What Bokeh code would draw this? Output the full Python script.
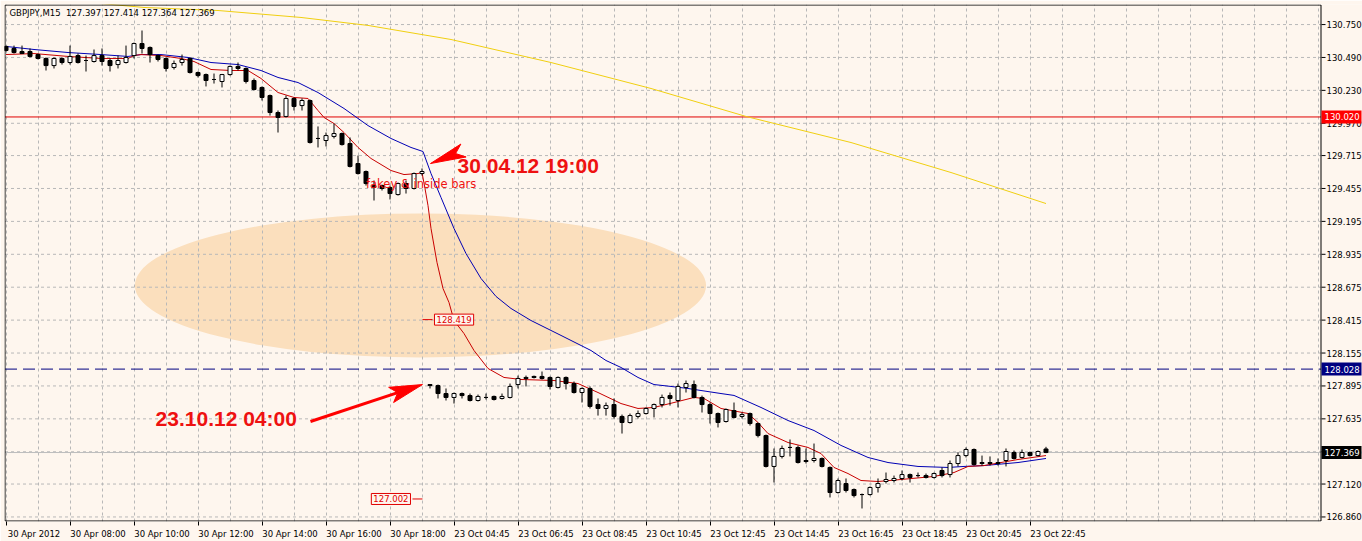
from bokeh.plotting import figure
from bokeh.models import Range1d, FixedTicker, Label
from bokeh.embed import file_html
from bokeh.resources import INLINE
from bokeh.core.properties import value

# ---------------- data ----------------
opens = [
    130.577, 130.561, 130.537, 130.537, 130.513, 130.482, 130.426, 130.482, 130.450, 130.505,
    130.466, 130.458, 130.505, 130.466, 130.434, 130.450, 130.505, 130.600, 130.569, 130.505,
    130.482, 130.411, 130.450, 130.482, 130.371, 130.355, 130.316, 130.300, 130.355, 130.419,
    130.403, 130.308, 130.253, 130.189, 130.055, 130.024, 130.166, 130.110, 130.150, 129.850,
    129.834, 129.866, 129.889, 129.810, 129.652, 129.589, 129.478, 129.478, 129.463, 129.407,
    129.494, 129.455, 129.573,
    127.906, 127.898, 127.835, 127.804, 127.835, 127.819, 127.780,
    127.804, 127.812, 127.796, 127.804, 127.906, 127.954, 127.970, 127.970, 127.962, 127.883,
    127.962, 127.914, 127.843, 127.875, 127.748, 127.717, 127.748, 127.654, 127.606, 127.654,
    127.677, 127.717, 127.748, 127.819, 127.780, 127.883, 127.906, 127.804, 127.748, 127.677,
    127.614, 127.701, 127.654, 127.677, 127.598, 127.503, 127.259, 127.338, 127.409, 127.409,
    127.306, 127.306, 127.322, 127.251, 127.053, 127.124, 127.077, 127.037, 127.037, 127.093,
    127.140, 127.148, 127.164, 127.195, 127.187, 127.187, 127.172, 127.227, 127.195, 127.282,
    127.345, 127.393, 127.282, 127.290, 127.290, 127.306, 127.369, 127.330, 127.369, 127.345,
    127.397]
highs = [
    130.584, 130.584, 130.584, 130.561, 130.521, 130.490, 130.490, 130.490, 130.584, 130.521,
    130.505, 130.553, 130.561, 130.482, 130.505, 130.584, 130.608, 130.703, 130.577, 130.513,
    130.490, 130.466, 130.513, 130.490, 130.379, 130.363, 130.363, 130.360, 130.426, 130.450,
    130.411, 130.324, 130.261, 130.197, 130.071, 130.189, 130.174, 130.166, 130.158, 129.945,
    129.897, 129.968, 129.897, 129.858, 129.715, 129.597, 129.518, 129.486, 129.478, 129.502,
    129.518, 129.581, 129.613,
    127.910, 127.906, 127.875, 127.843, 127.843, 127.835, 127.827,
    127.835, 127.819, 127.835, 127.914, 127.977, 127.977, 127.977, 128.009, 127.970, 127.970,
    127.970, 127.930, 127.883, 127.891, 127.796, 127.764, 127.796, 127.669, 127.677, 127.701,
    127.725, 127.756, 127.827, 127.843, 127.914, 127.938, 127.938, 127.819, 127.764, 127.685,
    127.717, 127.764, 127.685, 127.685, 127.606, 127.511, 127.401, 127.424, 127.472, 127.424,
    127.401, 127.440, 127.330, 127.259, 127.164, 127.164, 127.085, 127.045, 127.101, 127.164,
    127.211, 127.187, 127.227, 127.203, 127.211, 127.203, 127.211, 127.251, 127.306, 127.369,
    127.409, 127.401, 127.345, 127.338, 127.322, 127.401, 127.385, 127.393, 127.377, 127.385,
    127.414]
lows = [
    130.537, 130.521, 130.518, 130.490, 130.474, 130.387, 130.403, 130.434, 130.434, 130.442,
    130.379, 130.450, 130.426, 130.379, 130.403, 130.442, 130.482, 130.521, 130.450, 130.458,
    130.379, 130.395, 130.426, 130.363, 130.332, 130.261, 130.284, 130.253, 130.347, 130.387,
    130.284, 130.229, 130.150, 130.031, 129.897, 130.016, 130.071, 130.071, 129.810, 129.779,
    129.787, 129.850, 129.794, 129.621, 129.565, 129.478, 129.360, 129.439, 129.368, 129.399,
    129.415, 129.447, 129.557,
    127.875, 127.796, 127.780, 127.756, 127.796, 127.772, 127.772,
    127.788, 127.780, 127.788, 127.796, 127.875, 127.891, 127.954, 127.946, 127.867, 127.875,
    127.867, 127.835, 127.764, 127.717, 127.661, 127.661, 127.638, 127.519, 127.598, 127.638,
    127.669, 127.646, 127.725, 127.740, 127.725, 127.843, 127.796, 127.685, 127.598, 127.567,
    127.606, 127.638, 127.638, 127.582, 127.488, 127.251, 127.132, 127.322, 127.338, 127.282,
    127.282, 127.290, 127.251, 127.014, 127.045, 127.053, 127.014, 126.927, 127.029, 127.053,
    127.124, 127.132, 127.148, 127.132, 127.172, 127.164, 127.164, 127.172, 127.172, 127.259,
    127.330, 127.266, 127.266, 127.266, 127.266, 127.259, 127.314, 127.322, 127.338, 127.338,
    127.364]
closes = [
    130.545, 130.529, 130.521, 130.498, 130.482, 130.426, 130.482, 130.450, 130.498, 130.450,
    130.466, 130.505, 130.458, 130.426, 130.466, 130.490, 130.600, 130.561, 130.513, 130.474,
    130.403, 130.442, 130.474, 130.371, 130.347, 130.308, 130.316, 130.355, 130.419, 130.403,
    130.300, 130.237, 130.174, 130.055, 130.016, 130.166, 130.103, 130.150, 129.818, 129.850,
    129.873, 129.889, 129.802, 129.629, 129.573, 129.494, 129.463, 129.455, 129.415, 129.494,
    129.455, 129.573, 129.589,
    127.898, 127.835, 127.804, 127.835, 127.819, 127.780, 127.812,
    127.804, 127.788, 127.812, 127.891, 127.954, 127.962, 127.962, 127.954, 127.891, 127.962,
    127.914, 127.843, 127.875, 127.733, 127.717, 127.740, 127.654, 127.606, 127.661, 127.677,
    127.717, 127.748, 127.804, 127.796, 127.891, 127.914, 127.804, 127.748, 127.677, 127.606,
    127.709, 127.646, 127.669, 127.598, 127.503, 127.259, 127.338, 127.401, 127.409, 127.290,
    127.298, 127.322, 127.259, 127.053, 127.148, 127.069, 127.029, 127.037, 127.093, 127.124,
    127.156, 127.164, 127.195, 127.172, 127.187, 127.172, 127.203, 127.187, 127.282, 127.345,
    127.393, 127.274, 127.290, 127.282, 127.282, 127.377, 127.322, 127.369, 127.345, 127.377,
    127.369]
bars = list(range(len(opens)))

# fast moving average (red)
red_ma_x = [0, 3.5, 7.75, 11.875, 15.25, 16, 16.875, 19.375, 21.875, 23.5, 25.625, 28.125, 30.25,
            31.875, 34, 36, 37.75, 39, 39.75, 41, 42.25, 44, 45.625, 48.125, 49.75, 51.5, 52,
            52.375, 52.75, 53.125, 53.875, 54.625, 55.375, 56, 57.25, 58.5, 60.25, 62.25, 64.375,
            68.5, 71.5, 74, 76.875, 79, 81, 83.5, 86, 87.25, 89.375, 92.75, 94, 95.25, 97.75,
            100.25, 101.875, 103.5, 105.25, 106.875, 109, 111.875, 116, 118.5, 120.25, 122.25,
            126.5, 130]
red_ma_y = [130.513, 130.521, 130.498, 130.482, 130.482, 130.505, 130.513, 130.505, 130.482,
            130.458, 130.395, 130.387, 130.387, 130.324, 130.213, 130.174, 130.166, 130.071,
            130.016, 129.968, 129.897, 129.779, 129.692, 129.597, 129.565, 129.573, 129.581,
            129.455, 129.320, 129.139, 128.870, 128.665, 128.554, 128.412, 128.309, 128.175,
            128.033, 127.962, 127.946, 127.938, 127.914, 127.843, 127.756, 127.717, 127.725,
            127.764, 127.804, 127.796, 127.717, 127.677, 127.606, 127.519, 127.448, 127.409,
            127.361, 127.251, 127.203, 127.148, 127.140, 127.156, 127.180, 127.211, 127.259,
            127.266, 127.314, 127.345]
# slower moving average (blue)
blue_ma_x = [0, 3.5, 7.75, 11.875, 15.25, 16.875, 19.375, 22.75, 25.625, 29, 31.875, 34, 36.5,
             39, 42.25, 45.25, 48.125, 50.625, 52.125, 53.125, 54.375, 56, 57.5, 59.375, 61.25,
             63.125, 65.625, 69.375, 73.125, 75, 76.875, 79, 81, 83.125, 85.25, 86.875, 89.375,
             91, 94.375, 97.75, 101, 104.375, 107.75, 110.25, 114, 117.75, 119.75, 122.25,
             126.5, 130]
blue_ma_y = [130.577, 130.553, 130.529, 130.513, 130.498, 130.513, 130.513, 130.490, 130.450,
             130.434, 130.387, 130.332, 130.292, 130.213, 130.087, 129.952, 129.850, 129.779,
             129.747, 129.573, 129.384, 129.139, 128.941, 128.744, 128.602, 128.507, 128.412,
             128.294, 128.175, 128.096, 128.041, 127.962, 127.906, 127.891, 127.875, 127.859,
             127.835, 127.820, 127.725, 127.622, 127.543, 127.425, 127.330, 127.290, 127.259,
             127.251, 127.259, 127.266, 127.290, 127.322]
# long moving average (yellow)
yellow_ma_x = [0, 11.875, 17.25, 26.5, 36.875, 45.25, 55.625, 68.125, 80.625, 92.5, 105.625,
               118.125, 130]
yellow_ma_y = [130.960, 130.916, 130.885, 130.861, 130.806, 130.743, 130.632, 130.450, 130.245,
               130.024, 129.818, 129.581, 129.336]

price_ticks = [130.750, 130.490, 130.230, 129.970, 129.715, 129.455, 129.195, 128.935,
               128.675, 128.415, 128.155, 127.895, 127.635, 127.375, 127.120, 126.860]
price_tick_labels = ["130.750", "130.490", "130.230", "129.970", "129.715", "129.455",
                     "129.195", "128.935", "128.675", "128.415", "128.155", "127.895",
                     "127.635", "127.375", "127.120", "126.860"]
time_tick_bars = [0, 8, 16, 24, 32, 40, 48, 56, 64, 72, 80, 88, 96, 104, 112, 120, 128]
time_tick_labels = ["30 Apr 2012", "30 Apr 08:00", "30 Apr 10:00", "30 Apr 12:00",
                    "30 Apr 14:00", "30 Apr 16:00", "30 Apr 18:00", "23 Oct 04:45",
                    "23 Oct 06:45", "23 Oct 08:45", "23 Oct 10:45", "23 Oct 12:45",
                    "23 Oct 14:45", "23 Oct 16:45", "23 Oct 18:45", "23 Oct 20:45",
                    "23 Oct 22:45"]

resistance_level = 130.020
support_level = 128.028
bid_price = 127.369
price_label_levels = [128.419, 127.002]
title_text = "GBPJPY,M15\u00a0 127.397 127.414 127.364 127.369"

# annotation geometry (bar index, price)
zone_center = (51.81, 128.689)
zone_size = (71.4, 1.138)
arrow1_x = [53.06, 56.86, 56.2, 57.51]
arrow1_y = [129.652, 129.806, 129.731, 129.704]
arrow2_x = [52.06, 47.83, 48.97, 48.45]
arrow2_y = [127.906, 127.884, 127.842, 127.764]
arrow2_tail = (38.06, 127.614)

# ---------------- layout helpers ----------------
BG = "#FEF6EE"
FONT = "DejaVu Sans"
RED_TXT = "#EE1111"
BAR_PX = 8.0
X0 = -0.1875                     # left edge of the frame, in bar units
Y_TOP, Y_BOT = 130.9084, 126.8241
PX_PER_PRICE = 517 / (Y_TOP - Y_BOT)


def xd(px):
    """canvas pixel column -> bar coordinate"""
    return X0 + (px - 4) / BAR_PX


def yd(py):
    """canvas pixel row -> price coordinate"""
    return Y_TOP - (py - 4) / PX_PER_PRICE


chart_right = xd(1320.5)
chart_left = xd(4.5)

p = figure(width=1362, height=541, output_backend="svg", toolbar_location=None,
           x_range=Range1d(X0, xd(1362)), y_range=Range1d(Y_BOT, Y_TOP),
           y_axis_location=None, min_border_left=4, min_border_right=0,
           min_border_top=4, min_border_bottom=20, title=None)
p.background_fill_color = BG
p.border_fill_color = BG
p.outline_line_color = None

# time axis
label_pos = [b + 3.5 for b in time_tick_bars]
p.xaxis.ticker = FixedTicker(ticks=label_pos, minor_ticks=time_tick_bars)
p.xaxis.major_label_overrides = {lp: t for lp, t in zip(label_pos, time_tick_labels)}
p.xaxis.axis_line_color = None
p.xaxis.major_tick_line_color = None
p.xaxis.major_tick_out = 0
p.xaxis.major_tick_in = 0
p.xaxis.minor_tick_line_color = "black"
p.xaxis.minor_tick_out = 4
p.xaxis.minor_tick_in = 0
p.xaxis.major_label_standoff = 3
p.xaxis.major_label_text_font = FONT
p.xaxis.major_label_text_font_size = "8.5px"
p.xaxis.major_label_text_color = "black"

# grid
p.xgrid.ticker = FixedTicker(ticks=list(range(0, 165, 4)))
p.xgrid.grid_line_color = "#B8B8B8"
p.xgrid.grid_line_dash = "3 3"
p.ygrid.visible = False
n_ticks = len(price_ticks)
p.segment(x0=[chart_left] * n_ticks, y0=price_ticks, x1=[chart_right] * n_ticks,
          y1=price_ticks, line_color="#B8B8B8", line_dash="3 3", line_width=1, level="underlay")

# highlighted zone
p.ellipse(x=[zone_center[0]], y=[zone_center[1]], width=[zone_size[0]], height=[zone_size[1]],
          fill_color="#FBDFBD", line_color=None, level="image")

# horizontal levels
p.segment(x0=[chart_left], y0=[bid_price], x1=[chart_right], y1=[bid_price],
          line_color="#BDBDBD", line_width=1)
p.segment(x0=[chart_left], y0=[resistance_level], x1=[chart_right], y1=[resistance_level],
          line_color="#E00000", line_width=1)
p.segment(x0=[chart_left], y0=[support_level], x1=[chart_right], y1=[support_level],
          line_color="#000080", line_width=1, line_dash="12 6")

# moving averages
p.line(yellow_ma_x, yellow_ma_y, line_color="#F0CF10", line_width=1)
p.line(blue_ma_x, blue_ma_y, line_color="#0000B4", line_width=1)
p.line(red_ma_x, red_ma_y, line_color="#C80000", line_width=1)

# candles
tops = [max(o, c) for o, c in zip(opens, closes)]
bots = [min(o, c) for o, c in zip(opens, closes)]
fills = ["white" if c >= o else "black" for o, c in zip(opens, closes)]
p.segment(x0=bars, y0=lows, x1=bars, y1=highs, line_color="black", line_width=1)
p.vbar(x=bars, top=tops, bottom=bots, width=0.5, fill_color=fills, line_color="black",
       line_width=1)

# price label objects inside the chart
p.segment(x0=[52.06, 50.81], y0=price_label_levels, x1=[53.31, 52.06], y1=price_label_levels,
          line_color="#E00000", line_width=1)
p.add_layout(Label(x=53.56, y=price_label_levels[0], text=f"{price_label_levels[0]:.3f}",
                   text_font=FONT, text_font_size="8.5px", text_color="#E00000",
                   text_baseline="middle", text_align="left", background_fill_color=BG,
                   border_line_color="#E00000", padding=2))
p.add_layout(Label(x=50.56, y=price_label_levels[1], text=f"{price_label_levels[1]:.3f}",
                   text_font=FONT, text_font_size="8.5px", text_color="#E00000",
                   text_baseline="middle", text_align="right", background_fill_color=BG,
                   border_line_color="#E00000", padding=2))

# arrows
p.patch(arrow1_x, arrow1_y, fill_color="#FF0000", line_color="#FF0000", line_width=1)
p.segment(x0=[arrow2_tail[0]], y0=[arrow2_tail[1]], x1=[arrow2_x[2]], y1=[arrow2_y[2]],
          line_color="#FF0000", line_width=3)
p.patch(arrow2_x, arrow2_y, fill_color="#FF0000", line_color="#FF0000", line_width=1)

# texts
p.add_layout(Label(x=56.44, y=129.637, text="30.04.12 19:00", text_font="Liberation Sans",
                   text_font_size="21px", text_font_style="bold", text_color=RED_TXT,
                   text_baseline="middle", text_align="left"))
p.add_layout(Label(x=18.7, y=127.638, text="23.10.12 04:00", text_font="Liberation Sans",
                   text_font_size="21px", text_font_style="bold", text_color=RED_TXT,
                   text_baseline="middle", text_align="left"))
p.add_layout(Label(x=45.0, y=129.494, text="fakey & inside bars", text_font=FONT,
                   text_font_size="11.5px", text_color=RED_TXT, text_baseline="middle",
                   text_align="left"))
p.add_layout(Label(x=0.44, y=130.845, text=title_text, text_font=FONT, text_font_size="8.5px",
                   text_color="black", text_baseline="middle", text_align="left"))

# chart border (left, top, bottom, right)
top_b, bot_b = yd(4.5), yd(520.5)
p.segment(x0=[chart_left, chart_left, chart_left, chart_right],
          y0=[bot_b, top_b, bot_b, bot_b],
          x1=[chart_left, chart_right, chart_right, chart_right],
          y1=[top_b, top_b, bot_b, top_b], line_color="black", line_width=1)

# price scale on the right
p.segment(x0=[xd(1321)] * n_ticks, y0=price_ticks, x1=[xd(1325)] * n_ticks, y1=price_ticks,
          line_color="black", line_width=1)
p.text(x=[xd(1326)] * n_ticks, y=price_ticks, text=price_tick_labels,
       text_font=value(FONT), text_font_size=value("8.5px"), text_color="black",
       text_baseline="middle", text_align="left")

box_levels = [resistance_level, support_level, bid_price]
box_colors = ["#FF0000", "#000080", "black"]
half_h = 6.5 / PX_PER_PRICE
p.quad(left=[xd(1321)] * 3, right=[xd(1361)] * 3,
       top=[v + half_h for v in box_levels], bottom=[v - half_h for v in box_levels],
       fill_color=box_colors, line_color=None)
p.text(x=[xd(1324)] * 3, y=box_levels, text=[f"{v:.3f}" for v in box_levels],
       text_font=value(FONT), text_font_size=value("8.5px"), text_color="white",
       text_baseline="middle", text_align="left")

open("out.html", "w").write(file_html(p, INLINE))
